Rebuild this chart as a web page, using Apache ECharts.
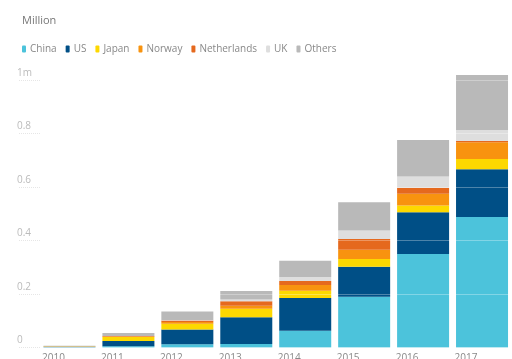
<!DOCTYPE html>
<html>
<head>
<meta charset="utf-8">
<style>html,body{margin:0;padding:0;background:#fff;}#c{width:512px;height:359px;}</style>
<script src="https://cdn.jsdelivr.net/npm/echarts@6/dist/echarts.min.js"></script>
</head>
<body>
<div id="c"></div>
<script>
const years = ['2010','2011','2012','2013','2014','2015','2016','2017'];
const china       = [0.001, 0.005, 0.012, 0.013, 0.063, 0.190, 0.350, 0.488];
const us          = [0.002, 0.019, 0.055, 0.100, 0.122, 0.112, 0.156, 0.178];
const japan       = [0.001, 0.015, 0.022, 0.032, 0.027, 0.029, 0.025, 0.039];
const norway      = [0.0005, 0.002, 0.006, 0.011, 0.022, 0.034, 0.044, 0.062];
const netherlands = [0.0003, 0.002, 0.006, 0.017, 0.015, 0.041, 0.022, 0.005];
const uk          = [0.0002, 0.000, 0.002, 0.006, 0.015, 0.031, 0.042, 0.041];
const others      = [0.002, 0.011, 0.032, 0.032, 0.060, 0.106, 0.137, 0.206];
const yTicks = [0, 0.2, 0.4, 0.6, 0.8, 1];

const names = ['China','US','Japan','Norway','Netherlands','UK','Others'];
const colors = ['#4cc3db','#004f86','#fdd800','#f8930f','#e5691e','#dedede','#b9b9b9'];
const datas = [china, us, japan, norway, netherlands, uk, others];

const chart = echarts.init(document.getElementById('c'));
chart.setOption({
  animation: false,
  color: colors,
  textStyle: { fontFamily: 'Open Sans' },
  title: {
    text: 'Million', left: 17, top: 10,
    textStyle: { fontSize: 11, fontWeight: 'normal', color: '#777', fontFamily: 'Open Sans' }
  },
  legend: {
    left: 17, top: 39,
    icon: 'roundRect', itemWidth: 4, itemHeight: 7, itemGap: 9,
    textStyle: { fontSize: 10, color: '#888', padding: [0, 0, 0, -1] },
    data: names
  },
  grid: { left: 40, right: 0.5, top: 80, bottom: 11.5, containLabel: false, outerBoundsMode: 'none' },
  xAxis: {
    type: 'category', data: years,
    axisLine: { show: false }, axisTick: { show: false },
    axisLabel: { color: '#888', fontSize: 10, margin: 6, padding: [0, 32, 0, 0], interval: 0 }
  },
  yAxis: {
    type: 'value', min: 0, max: 1, interval: 0.2, z: 3,
    axisLine: { show: false },
    axisTick: { show: true, length: 22, lineStyle: { color: '#e6e6e6', type: 'dotted' } },
    splitLine: { show: true, lineStyle: { color: 'rgba(255,255,255,0.3)', width: 1 } },
    axisLabel: {
      color: '#bbb', fontSize: 10, align: 'left', margin: 23,
      verticalAlign: 'bottom', padding: [0, 0, 2, 0],
      formatter: v => { const t = yTicks.find(x => Math.abs(x - v) < 1e-9); return t === 1 ? '1m' : String(+v.toFixed(1)); }
    }
  },
  series: names.map((n, i) => ({
    name: n, type: 'bar', stack: 'total', data: datas[i],
    barWidth: 52, clip: false,
    itemStyle: { color: colors[i] }
  }))
});
</script>
</body>
</html>
